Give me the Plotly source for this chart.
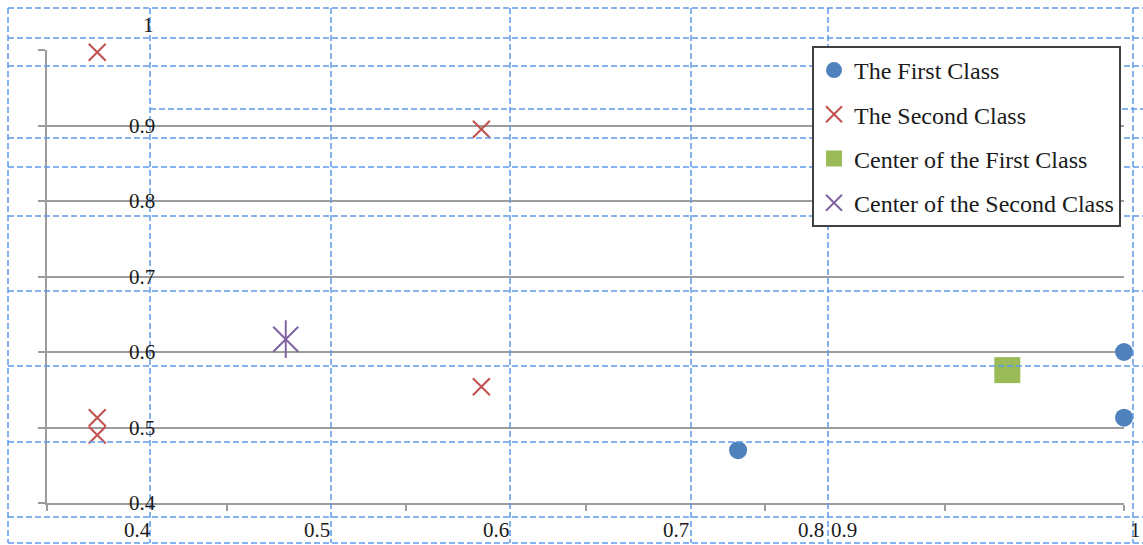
import plotly.graph_objects as go

# ---------------- data ----------------
first_x = [0.785, 1.0, 1.0]
first_y = [0.470, 0.600, 0.513]

second_x = [0.428, 0.642, 0.642, 0.428, 0.428]
second_y = [0.997, 0.895, 0.554, 0.513, 0.490]

center_first_x = [0.935]
center_first_y = [0.576]

center_second_x = [0.533]
center_second_y = [0.617]

series_names = ["The First Class", "The Second Class",
                "Center of the First Class", "Center of the Second Class"]

x_ticks = [0.4, 0.5, 0.6, 0.7, 0.8, 0.9, 1.0]
x_tick_labels = ["0.4", "0.5", "0.6", "0.7", "0.8", "0.9", "1"]
y_ticks = [0.4, 0.5, 0.6, 0.7, 0.8, 0.9, 1.0]
y_tick_labels = ["0.4", "0.5", "0.6", "0.7", "0.8", "0.9", "1"]

# ---------------- styling / layout ----------------
W, H = 1143, 545
ML, MR, MT, MB = 47, 19, 50, 42
PW, PH = W - ML - MR, H - MT - MB

BLUE = "#4F81BD"
RED = "#C0504D"
GREEN = "#9BBB59"
PURPLE = "#8064A2"
GRID = "#9c9c9c"
DASH_BLUE = "#5E9BEA"
FONT = "Liberation Serif"
TXT = "#1a1a1a"

# pixel offsets of the (misplaced) tick labels, as in the reference
x_label_xshift = [90, 90, 90, 90, 46, -101, 11]
x_label_yshift = -27
y_label_xshift = [80, 80, 80, 80, 80, 80, 94]
y_label_yshift = [0, 0, 0, 0, 0, 0, 25]

fig = go.Figure()

fig.add_trace(go.Scatter(
    x=first_x, y=first_y, mode="markers", name=series_names[0],
    legendgroup="g1", cliponaxis=False,
    marker=dict(symbol="circle", size=18, color=BLUE)))
fig.add_trace(go.Scatter(
    x=second_x, y=second_y, mode="markers", name=series_names[1],
    legendgroup="g2", cliponaxis=False,
    marker=dict(symbol="x-thin-open", size=17, color=RED,
                line=dict(color=RED, width=2))))
fig.add_trace(go.Scatter(
    x=center_first_x, y=center_first_y, mode="markers", name=series_names[2],
    legendgroup="g3", cliponaxis=False,
    marker=dict(symbol="square", size=26, color=GREEN)))
fig.add_trace(go.Scatter(
    x=center_second_x, y=center_second_y, mode="markers", name=series_names[3],
    legendgroup="g4", cliponaxis=False,
    marker=dict(symbol="x-thin-open", size=25, color=PURPLE,
                line=dict(color=PURPLE, width=2))))
fig.add_trace(go.Scatter(
    x=center_second_x, y=center_second_y, mode="markers", name=series_names[3],
    legendgroup="g4", showlegend=False, cliponaxis=False,
    marker=dict(symbol="line-ns-open", size=27, color=PURPLE,
                line=dict(color=PURPLE, width=2))))

fig.update_layout(
    xaxis=dict(range=[0.4, 1.0], tickvals=x_ticks, showticklabels=False,
               showgrid=False, zeroline=False, showline=True,
               linecolor=GRID, linewidth=2, ticks="outside", ticklen=6,
               tickcolor=GRID, tickwidth=2),
    yaxis=dict(range=[0.4, 1.0], tickvals=y_ticks, showticklabels=False,
               showgrid=True, gridcolor=GRID, gridwidth=2, zeroline=False,
               showline=True, linecolor=GRID, linewidth=2, ticks="outside",
               ticklen=7, tickcolor=GRID, tickwidth=2),
)

# tick labels, placed on the axis scales with the reference's offsets
annotations = []
for v, t, dx in zip(x_ticks, x_tick_labels, x_label_xshift):
    annotations.append(dict(x=v, xref="x", y=0, yref="paper", text=t,
                            showarrow=False, xanchor="center", yanchor="middle",
                            xshift=dx, yshift=x_label_yshift,
                            font=dict(family=FONT, size=21, color=TXT)))
for v, t, dx, dy in zip(y_ticks, y_tick_labels, y_label_xshift, y_label_yshift):
    annotations.append(dict(x=0, xref="paper", y=v, yref="y", text=t,
                            showarrow=False, xanchor="left", yanchor="middle",
                            xshift=dx, yshift=dy,
                            font=dict(family=FONT, size=21, color=TXT)))

# blue dashed table-cell lines overlaid on the picture (pixel positions)
def px_x(p):
    return (p - ML) / PW

def px_y(p):
    return (H - MB - p) / PH

h_lines = [(8, 8, 1143), (38, 8, 1143), (66, 8, 1143), (109, 150, 1143),
           (138, 8, 1143), (167, 8, 1143), (216, 8, 1143), (291, 8, 1143),
           (366, 8, 1143), (442, 8, 1143), (517, 8, 1143), (543, 8, 1143)]
v_lines = [8, 150, 331, 510, 691, 828, 1133]
dash_line = dict(color=DASH_BLUE, width=1.5, dash="6px,3px")
shapes = []
for yy, x0, x1 in h_lines:
    shapes.append(dict(type="line", xref="paper", yref="paper", layer="above",
                       x0=px_x(x0), x1=px_x(x1), y0=px_y(yy), y1=px_y(yy), line=dash_line))
for xx in v_lines:
    shapes.append(dict(type="line", xref="paper", yref="paper", layer="above",
                       x0=px_x(xx), x1=px_x(xx), y0=px_y(8), y1=px_y(543), line=dash_line))

fig.update_layout(
    width=W, height=H, autosize=False,
    margin=dict(l=ML, r=MR, t=MT, b=MB, pad=0),
    paper_bgcolor="white", plot_bgcolor="white",
    shapes=shapes,
    annotations=annotations,
    legend=dict(x=px_x(812), y=px_y(46), xanchor="left", yanchor="top",
                bgcolor="white", bordercolor="#404040", borderwidth=2,
                font=dict(family=FONT, size=24, color=TXT),
                tracegroupgap=10, itemsizing="trace"),
    showlegend=True,
)

fig.write_html("out.html",
               config={"displayModeBar": False},
               post_script="document.body.style.margin='0px';"
                           "document.body.style.overflow='hidden';")
